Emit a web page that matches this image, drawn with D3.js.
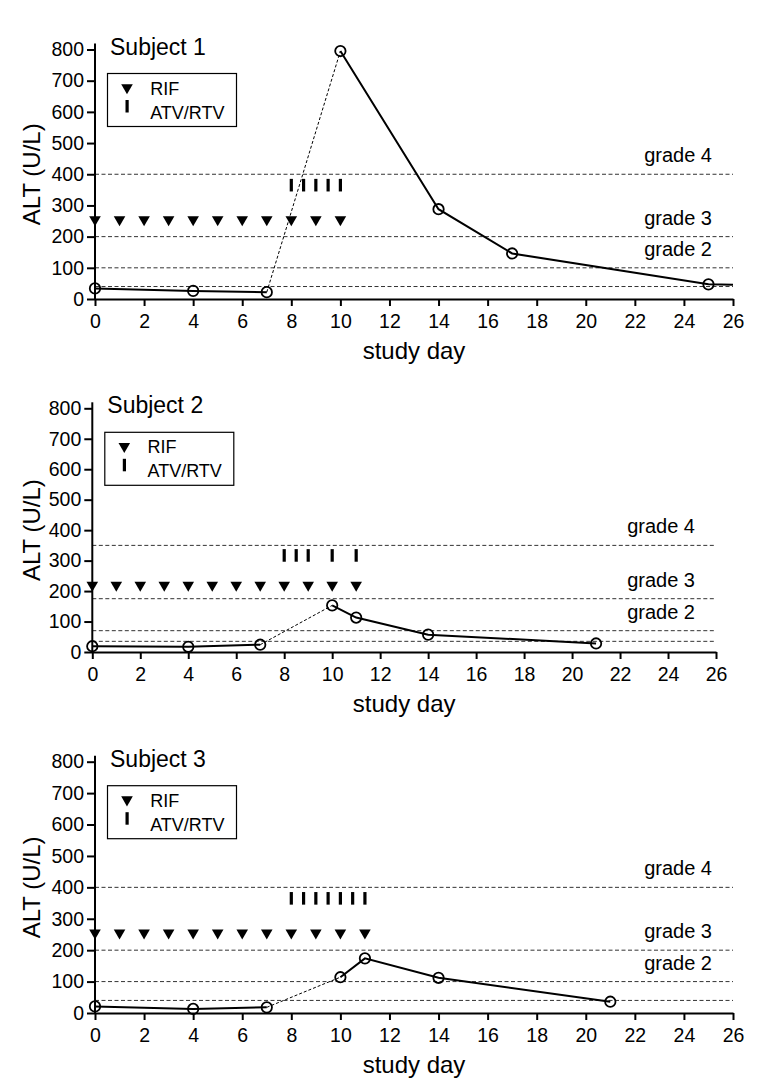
<!DOCTYPE html>
<html>
<head>
<meta charset="utf-8">
<script src="https://cdn.jsdelivr.net/npm/d3@7"></script>
<style>
  body { margin: 0; background: #fff; }
  svg { display: block; font-family: "Liberation Sans", Arial, sans-serif; }
</style>
</head>
<body>
<svg id="chart" width="771" height="1087"></svg>
<script>
// axis ticks
const dayTicks = [0, 2, 4, 6, 8, 10, 12, 14, 16, 18, 20, 22, 24, 26];
const altTicks = [0, 100, 200, 300, 400, 500, 600, 700, 800];
const gradeNames = ["grade 2", "grade 3", "grade 4"];

// the dashed stretch of the ALT line (no sample between these days)
const gapStart = 7, gapEnd = 10;

// Subject 1
const s1Days = [0, 4, 7, 10, 14, 17, 25];
const s1Alt = [34, 26, 22, 795, 288, 146, 47];
const s1TailDay = 26, s1TailAlt = 46;
const s1RifDays = [0, 1, 2, 3, 4, 5, 6, 7, 8, 9, 10];
const s1AtvDays = [8, 8.5, 9, 9.5, 10];
const s1RifLevel = 255, s1AtvLevel = 365;
const s1Grades = [40, 100, 200, 400];

// Subject 2
const s2Days = [0, 4, 7, 10, 11, 14, 21];
const s2Alt = [19, 17, 24, 153, 113, 57, 28];
const s2RifDays = [0, 1, 2, 3, 4, 5, 6, 7, 8, 9, 10, 11];
const s2AtvDays = [8, 8.5, 9, 10, 11];
const s2RifLevel = 220, s2AtvLevel = 317;
const s2Grades = [35, 70, 175, 350];

// Subject 3
const s3Days = [0, 4, 7, 10, 11, 14, 21];
const s3Alt = [21, 13, 18, 114, 174, 112, 36];
const s3RifDays = [0, 1, 2, 3, 4, 5, 6, 7, 8, 9, 10, 11];
const s3AtvDays = [8, 8.5, 9, 9.5, 10, 10.5, 11];
const s3RifLevel = 255, s3AtvLevel = 365;
const s3Grades = [40, 100, 200, 400];

const svg = d3.select("#chart");

const panels = [
  { title: "Subject 1", days: s1Days, alt: s1Alt, tail: [s1TailDay, s1TailAlt],
    rif: s1RifDays, atv: s1AtvDays, rifLevel: s1RifLevel, atvLevel: s1AtvLevel, grades: s1Grades,
    box: { left: 95, right: 733, top: 49.5, bottom: 299 } },
  { title: "Subject 2", days: s2Days, alt: s2Alt, tail: null,
    rif: s2RifDays, atv: s2AtvDays, rifLevel: s2RifLevel, atvLevel: s2AtvLevel, grades: s2Grades,
    box: { left: 92.3, right: 716, top: 408.3, bottom: 652 } },
  { title: "Subject 3", days: s3Days, alt: s3Alt, tail: null,
    rif: s3RifDays, atv: s3AtvDays, rifLevel: s3RifLevel, atvLevel: s3AtvLevel, grades: s3Grades,
    box: { left: 95, right: 733, top: 761.7, bottom: 1013 } }
];

function drawPanel(p) {
  const b = p.box;
  const x = d3.scaleLinear().domain([0, 26]).range([b.left, b.right]);
  const y = d3.scaleLinear().domain([0, 800]).range([b.bottom, b.top]);
  const g = svg.append("g");

  // grade threshold lines
  g.selectAll(".grade").data(p.grades).enter().append("line")
    .attr("x1", x(0)).attr("x2", x(26))
    .attr("y1", d => y(d)).attr("y2", d => y(d))
    .attr("stroke", "#333").attr("stroke-width", 1)
    .attr("stroke-dasharray", "4,2.5");

  g.selectAll(".gradeLabel").data(p.grades.slice(1)).enter().append("text")
    .attr("x", x(26) - 21)
    .attr("y", d => y(d) - 12)
    .attr("text-anchor", "end")
    .attr("font-size", 20)
    .text((d, i) => gradeNames[i]);

  // axes
  const yAxis = g.append("g")
    .attr("transform", `translate(${x(0)},0)`)
    .call(d3.axisLeft(y).tickValues(altTicks).tickSize(8).tickPadding(3));
  yAxis.select(".domain").attr("stroke-width", 2).attr("d", `M0,${y(0)}V${y(800) - 6}`);
  yAxis.selectAll(".tick line").attr("stroke-width", 2);
  yAxis.selectAll(".tick text").attr("font-size", 19.5).attr("font-family", "Liberation Sans, Arial").attr("fill", "#000");

  const xAxis = g.append("g")
    .attr("transform", `translate(0,${y(0)})`)
    .call(d3.axisBottom(x).tickValues(dayTicks).tickSize(7).tickSizeOuter(0));
  xAxis.select(".domain").attr("stroke-width", 2);
  xAxis.selectAll(".tick line").attr("stroke-width", 2);
  xAxis.selectAll(".tick text").attr("font-size", 19.5).attr("font-family", "Liberation Sans, Arial")
    .attr("fill", "#000").attr("y", 29).attr("dy", 0);

  // axis titles
  g.append("text")
    .attr("transform", `translate(40,${(b.top + b.bottom) / 2}) rotate(-90)`)
    .attr("text-anchor", "middle").attr("font-size", 24)
    .text("ALT (U/L)");
  g.append("text")
    .attr("x", (b.left + b.right) / 2).attr("y", y(0) + 60)
    .attr("text-anchor", "middle").attr("font-size", 24)
    .text("study day");

  g.append("text")
    .attr("x", x(0) + 15).attr("y", b.top + 5)
    .attr("font-size", 23)
    .text(p.title);

  // legend
  const lg = g.append("g").attr("transform", `translate(${x(0) + 12.5},${b.top + 24})`);
  lg.append("rect").attr("width", 129).attr("height", 53)
    .attr("fill", "#fff").attr("stroke", "#000").attr("stroke-width", 1.2);
  lg.append("path").attr("d", d3.symbol(d3.symbolTriangle, 58)())
    .attr("transform", "translate(19.5,14) rotate(180)").attr("fill", "#000");
  lg.append("text").attr("x", 42.7).attr("y", 21).attr("font-size", 18).text("RIF");
  lg.append("rect").attr("x", 18).attr("y", 26.5).attr("width", 3.2).attr("height", 12.5).attr("fill", "#000");
  lg.append("text").attr("x", 42.7).attr("y", 45).attr("font-size", 18).text("ATV/RTV");

  // dosing marks
  g.selectAll(".rif").data(p.rif).enter().append("path")
    .attr("d", d3.symbol(d3.symbolTriangle, 58)())
    .attr("transform", d => `translate(${x(d)},${y(p.rifLevel)}) rotate(180)`)
    .attr("fill", "#000");
  g.selectAll(".atv").data(p.atv).enter().append("line")
    .attr("x1", d => x(d)).attr("x2", d => x(d))
    .attr("y1", y(p.atvLevel) - 6.3).attr("y2", y(p.atvLevel) + 6.3)
    .attr("stroke", "#000").attr("stroke-width", 3.2);

  // ALT line: solid segments, dashed across the sampling gap
  const pts = p.days.map((d, i) => [d, p.alt[i]]);
  if (p.tail) pts.push(p.tail);
  const line = d3.line().x(d => x(d[0])).y(d => y(d[1]));
  const before = pts.filter(d => d[0] <= gapStart);
  const gap = pts.filter(d => d[0] === gapStart || d[0] === gapEnd);
  const after = pts.filter(d => d[0] >= gapEnd);
  [before, after].forEach(seg => {
    g.append("path").datum(seg).attr("d", line)
      .attr("fill", "none").attr("stroke", "#000").attr("stroke-width", 2);
  });
  g.append("path").datum(gap).attr("d", line)
    .attr("fill", "none").attr("stroke", "#000").attr("stroke-width", 1)
    .attr("stroke-dasharray", "3,2");

  g.selectAll(".pt").data(p.days).enter().append("circle")
    .attr("cx", d => x(d)).attr("cy", (d, i) => y(p.alt[i]))
    .attr("r", 5.2).attr("fill", "none").attr("stroke", "#000").attr("stroke-width", 1.8);
}

panels.forEach(drawPanel);
</script>
</body>
</html>
